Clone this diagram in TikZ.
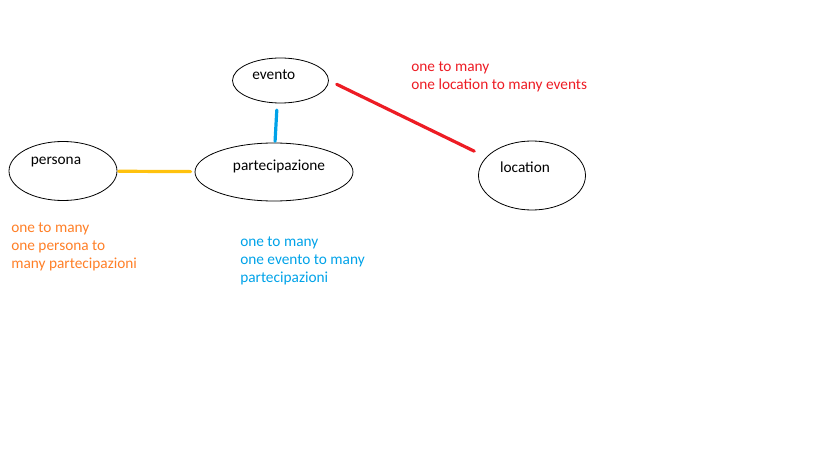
\documentclass[tikz,border=0pt]{standalone}
\usepackage{fontspec}
\setmainfont{Carlito}
\usepackage{tikz}
\usetikzlibrary{shapes.geometric}
\definecolor{paintred}{RGB}{237,28,36}
\definecolor{paintblue}{RGB}{0,162,232}
\definecolor{paintorange}{RGB}{255,127,39}
\definecolor{paintgold}{RGB}{255,194,14}
\tikzset{
  entity/.style={ellipse, draw=black, line width=0.6pt, inner sep=0pt},
  relation/.style={line width=2.4pt, line cap=round, line join=round},
  note/.style={align=left, inner sep=0pt, anchor=west, font=\fontsize{11.5}{13.5}\selectfont}
}
\begin{document}
\begin{tikzpicture}[x=0.75pt, y=-0.75pt, font=\fontsize{11.5}{13.5}\selectfont]
    \useasboundingbox (0,0) rectangle (819,460);

    % Entities
    \node[entity, minimum width=72pt, minimum height=33.75pt,
          label={[shift={(-5pt,4.5pt)}]center:evento}] (evento) at (280.5,80.5) {};
    \node[entity, minimum width=81pt, minimum height=44.25pt,
          label={[shift={(-5.25pt,6.5pt)}]center:persona}] (persona) at (63,171) {};
    \node[entity, minimum width=118.5pt, minimum height=43.5pt,
          label={[shift={(3.75pt,4.5pt)}]center:partecipazione}] (partecipazione) at (274,172) {};
    \node[entity, minimum width=80.25pt, minimum height=51.75pt,
          label={[shift={(-5.25pt,6pt)}]center:location}] (location) at (532,175.5) {};

    % Relations
    \draw[relation, paintgold, shorten <=1pt, shorten >=3pt] (persona) -- (partecipazione);
    \draw[relation, paintblue, shorten <=5pt, shorten >=1pt] ([xshift=-2.5pt]evento.south) -- ([xshift=0.75pt]partecipazione.north);
    \draw[relation, paintred, shorten <=6.5pt, shorten >=10pt] (evento.east) -- (location.158);

    % Notes
    \node[note, text=paintred] (notelocation) at (411,77) {one to many\\one location to many events};
    \node[note, text=paintorange] (notepersona) at (11,247) {one to many\\one persona to\\many partecipazioni};
    \node[note, text=paintblue] (noteevento) at (240,261) {one to many\\one evento to many\\partecipazioni};
\end{tikzpicture}
\end{document}
